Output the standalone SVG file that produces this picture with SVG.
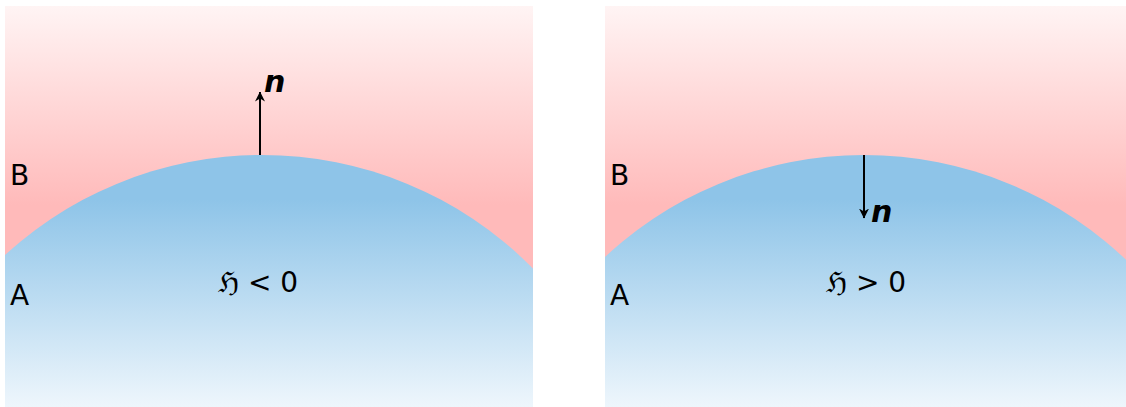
<svg xmlns="http://www.w3.org/2000/svg" width="1126" height="407" viewBox="0 0 1126 407">
<defs>
<linearGradient id="pink" gradientUnits="userSpaceOnUse" x1="0" y1="6" x2="0" y2="205">
<stop offset="0" stop-color="#fff4f4"/>
<stop offset="1" stop-color="#ffbaba"/>
</linearGradient>
<linearGradient id="blue" gradientUnits="userSpaceOnUse" x1="0" y1="200" x2="0" y2="407">
<stop offset="0" stop-color="#8ec4e8"/>
<stop offset="1" stop-color="#eef6fc"/>
</linearGradient>
<marker id="ah" viewBox="0 0 10 12" refX="9.5" refY="6" markerWidth="10" markerHeight="12" markerUnits="userSpaceOnUse" orient="auto">
<path d="M0,1 L10,6 L0,11 L3,6 Z" fill="#000"/>
</marker>
<clipPath id="cl"><rect x="5" y="6" width="528" height="401"/></clipPath>
<clipPath id="cr"><rect x="605" y="6" width="521" height="401"/></clipPath>
</defs>
<style>
.lbl{font-family:"DejaVu Sans",sans-serif;font-size:28px;fill:#000}
.h{font-family:"DejaVu Sans","DejaVu Serif",serif;font-size:28px;fill:#000}
.n{font-family:"DejaVu Sans",sans-serif;font-size:30px;font-weight:bold;font-style:italic;fill:#000}
.vec{stroke:#000;stroke-width:2;fill:none;marker-end:url(#ah)}
</style>
<g id="left-panel">
<rect x="5" y="6" width="528" height="401" fill="url(#pink)"/>
<circle cx="262" cy="535" r="380" fill="url(#blue)" clip-path="url(#cl)"/>
<text class="lbl" x="10" y="185">B</text>
<text class="lbl" x="10" y="305">A</text>
<text class="h" x="258" y="292" text-anchor="middle">ℌ &lt; 0</text>
</g>
<g id="right-panel">
<rect x="605" y="6" width="521" height="401" fill="url(#pink)"/>
<circle cx="864" cy="535" r="380" fill="url(#blue)" clip-path="url(#cr)"/>
<text class="lbl" x="610" y="185">B</text>
<text class="lbl" x="610" y="305">A</text>
<text class="h" x="866" y="292" text-anchor="middle">ℌ &gt; 0</text>
</g>
<g id="connectors">
<line class="vec" x1="260" y1="155" x2="260" y2="92"/>
<line class="vec" x1="864" y1="155" x2="864" y2="218"/>
</g>
<g id="labels">
<text class="n" x="264" y="92">n</text>
<text class="n" x="871" y="222">n</text>
</g>
</svg>
